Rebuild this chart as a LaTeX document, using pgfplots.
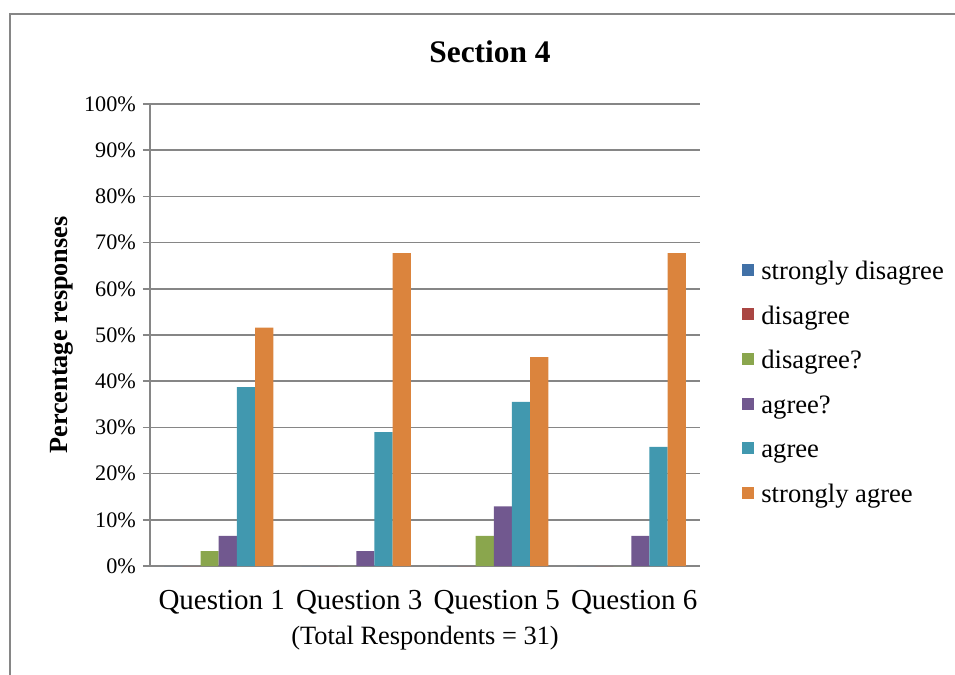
\documentclass[border=0pt]{standalone}
\usepackage{pgfplots}
\pgfplotsset{compat=1.18}
\usepackage{fontspec}
\setmainfont{Liberation Serif}

\definecolor{sdis}{RGB}{65,113,167}
\definecolor{dis}{RGB}{170,70,67}
\definecolor{disq}{RGB}{138,166,77}
\definecolor{agq}{RGB}{113,88,143}
\definecolor{ag}{RGB}{65,152,175}
\definecolor{sag}{RGB}{219,132,61}
\definecolor{axgray}{RGB}{134,134,134}

\begin{document}
\begin{tikzpicture}
% 1 px of the reference = 0.5pt, origin at the top left corner
\useasboundingbox (0pt,0pt) rectangle (477.5pt,-337.5pt);
\draw[axgray, line width=0.8pt] (5pt,-337.5pt) -- (5pt,-7pt) -- (477.5pt,-7pt);
\node[font=\fontsize{15.7}{18}\selectfont\bfseries] at (245pt,-26pt) {Section 4};

\begin{axis}[
at={(75pt,-283pt)},
anchor=south west,
scale only axis,
width=275pt,
height=231pt,
ybar=0pt,
bar width=9.1pt,
xmin=-0.5, xmax=3.5,
ymin=0, ymax=100,
axis lines*=left,
axis line style={axgray, line width=0.8pt},
ymajorgrids,
grid style={axgray, line width=0.8pt},
xtick={0,1,2,3},
xticklabels={Question 1,Question 3,Question 5,Question 6},
xtick style={draw=none},
ytick={0,10,...,100},
yticklabels={0\%,10\%,20\%,30\%,40\%,50\%,60\%,70\%,80\%,90\%,100\%},
ytick style={axgray, line width=0.8pt},
tick align=outside,
major tick length=3.5pt,
xticklabel style={font=\fontsize{14.5}{17}\selectfont, yshift=-5pt, xshift=1.5pt},
yticklabel style={font=\fontsize{11.1}{13}\selectfont},
xlabel={(Total Respondents = 31)},
xlabel style={font=\fontsize{13.2}{15}\selectfont, yshift=1pt},
ylabel={Percentage responses},
ylabel style={font=\fontsize{13.1}{15}\selectfont\bfseries, yshift=-1.5pt},
legend cell align=left,
legend style={at={(1,0.4)}, anchor=west, xshift=18pt, draw=none, fill=none,
  font=\fontsize{13.3}{16}\selectfont, row sep=5.6pt},
legend image code/.code={\fill[#1] (0pt,-3pt) rectangle (6pt,3pt); \path (7.5pt,0pt);},
every axis plot/.append style={draw=none},
]
\addplot[fill=sdis] coordinates {(0,0) (1,0) (2,0) (3,0)};
\addplot[fill=dis] coordinates {(0,0) (1,0) (2,0) (3,0)};
\addplot[fill=disq] coordinates {(0,3.2) (1,0) (2,6.5) (3,0)};
\addplot[fill=agq] coordinates {(0,6.5) (1,3.2) (2,12.9) (3,6.5)};
\addplot[fill=ag] coordinates {(0,38.7) (1,29.0) (2,35.5) (3,25.8)};
\addplot[fill=sag] coordinates {(0,51.6) (1,67.7) (2,45.2) (3,67.7)};
\legend{\strut strongly disagree,\strut disagree,\strut disagree?,\strut agree?,\strut agree,\strut strongly agree}
\end{axis}
\end{tikzpicture}
\end{document}
